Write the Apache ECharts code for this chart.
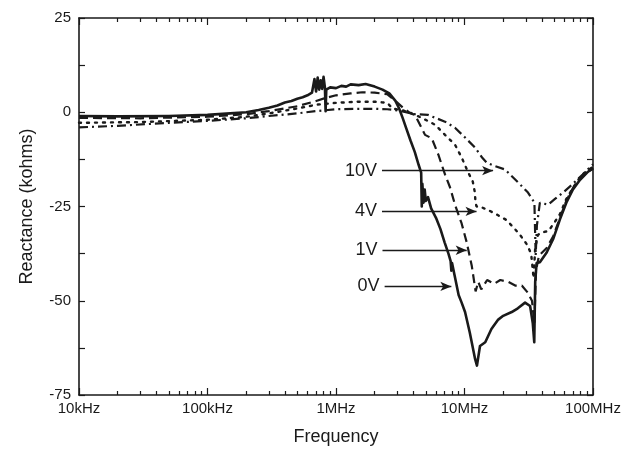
<!DOCTYPE html>
<html>
<head>
<meta charset="utf-8">
<script src="https://cdn.jsdelivr.net/npm/echarts@6/dist/echarts.min.js"></script>
<style>
  html, body { margin: 0; padding: 0; background: #fff; }
  #root { width: 637px; height: 455px; }
</style>
</head>
<body>
<div id="root"></div>
<script>
// frequency in MHz, reactance in kohms
const freq0V = [0.01, 0.02, 0.05, 0.1, 0.15, 0.2, 0.25, 0.3, 0.35, 0.4, 0.45, 0.5, 0.55, 0.6, 0.65, 0.68, 0.7, 0.72, 0.74, 0.76, 0.78, 0.8, 0.82, 0.83, 0.84, 0.9, 1.0, 1.1, 1.2, 1.3, 1.5, 1.7, 2.0, 2.3, 2.6, 2.9, 3.1, 3.3, 3.5, 3.8, 4.1, 4.4, 4.6, 4.65, 4.7, 4.8, 4.9, 5.0, 5.2, 5.5, 6.0, 6.5, 7.0, 7.5, 7.8, 7.9, 8.0, 8.4, 9.0, 9.5, 10.1, 11.0, 12.1, 12.5, 13.2, 14.5, 16.2, 18.3, 20.0, 23.3, 26.0, 29.6, 32.4, 34.0, 34.9, 35.5, 36.4, 38.6, 43.6, 48.9, 55.3, 62.0, 69.8, 79.3, 90.0, 100];
const react0V = [-1.0, -1.1, -1.0, -0.7, -0.3, 0.0, 0.6, 1.2, 1.8, 2.6, 3.0, 3.6, 4.0, 4.5, 5.2, 8.8, 5.5, 9.2, 6.0, 8.5, 6.2, 9.4, 6.5, 0.3, 6.0, 6.6, 6.4, 7.0, 6.8, 7.4, 7.2, 7.5, 6.8, 6.0, 5.0, 3.0, 1.0, -1.5, -4.0, -7.5, -10.5, -14.0, -16.0, -25.0, -19.0, -24.0, -20.5, -23.5, -22.5, -25.5, -28.0, -31.0, -34.5, -37.5, -39.5, -42.0, -40.0, -43.5, -48.5, -50.5, -53.0, -58.5, -65.5, -67.2, -62.0, -61.0, -57.5, -55.0, -54.0, -53.0, -52.0, -50.5, -51.4, -56.0, -61.0, -45.0, -40.0, -39.8, -37.2, -33.7, -28.4, -24.0, -20.5, -17.9, -16.0, -14.8];

const freq1V = [0.01, 0.03, 0.1, 0.2, 0.3, 0.5, 0.7, 0.83, 1.0, 1.3, 1.6, 2.0, 2.5, 2.9, 3.3, 3.8, 4.12, 4.93, 5.56, 6.25, 7.05, 7.71, 8.43, 9.5, 10.4, 11.4, 12.2, 12.8, 13.5, 15.0, 17.0, 19.0, 22.0, 25.0, 28.0, 31.0, 33.5, 35.0, 36.0, 38.0, 43.6, 48.9, 55.3, 62.0, 70.0, 80.0, 90.0, 100];
const react1V = [-1.5, -1.6, -1.2, -0.5, 0.3, 1.6, 3.0, 3.8, 4.5, 5.0, 5.3, 5.2, 4.8, 3.0, 1.3, -0.3, -0.7, -6.0, -6.9, -11.2, -16.5, -19.9, -24.5, -29.5, -34.5, -40.8, -47.5, -45.0, -47.0, -44.5, -45.5, -44.5, -45.0, -46.0, -46.0, -47.8, -50.0, -56.0, -42.0, -38.0, -36.0, -33.0, -28.0, -23.5, -20.0, -17.5, -16.0, -15.0];

const freq4V = [0.01, 0.03, 0.1, 0.2, 0.3, 0.5, 0.7, 1.0, 1.5, 2.0, 2.5, 2.76, 3.3, 3.77, 4.65, 5.9, 7.05, 8.43, 9.5, 10.6, 11.6, 12.0, 12.2, 12.4, 13.2, 15.8, 18.0, 21.0, 24.0, 27.0, 30.5, 33.0, 34.5, 35.5, 37.3, 41.0, 45.0, 50.0, 55.3, 62.0, 70.0, 80.0, 90.0, 100];
const react4V = [-2.8, -2.6, -2.0, -1.2, -0.3, 1.0, 2.0, 2.5, 2.8, 2.8, 2.5, 1.0, 0.5, -0.1, -1.5, -3.3, -6.0, -8.6, -12.0, -15.7, -18.4, -21.0, -24.0, -25.0, -25.0, -26.2, -27.2, -28.5, -30.5, -32.5, -35.0, -37.5, -44.0, -36.0, -32.5, -31.8, -31.5, -29.3, -27.0, -23.0, -20.0, -17.0, -15.5, -14.5];

const freq10V = [0.01, 0.02, 0.05, 0.1, 0.2, 0.3, 0.5, 0.7, 1.0, 1.5, 2.0, 2.5, 3.0, 3.5, 4.0, 5.2, 7.05, 8.43, 10.1, 12.1, 13.7, 14.9, 17.0, 20.7, 26.1, 31.2, 35.0, 35.8, 36.6, 38.6, 44.7, 50.6, 58.5, 68.7, 83.0, 100];
const react10V = [-4.0, -3.6, -2.8, -2.3, -1.6, -1.0, -0.3, 0.3, 0.8, 0.9, 0.9, 0.8, 0.5, 0.0, -0.5, -0.7, -2.5, -4.1, -6.7, -9.4, -12.0, -13.4, -14.2, -15.2, -18.6, -21.3, -24.0, -38.0, -30.0, -24.0, -24.5, -23.0, -21.3, -19.2, -16.5, -13.8];

const majorFreqs = [0.01, 0.1, 1, 10, 100];
const tickLabels = ['10kHz', '100kHz', '1MHz', '10MHz', '100MHz'];
const minorFreqs = [0.02, 0.03, 0.04, 0.05, 0.06, 0.07, 0.08, 0.09,
  0.2, 0.3, 0.4, 0.5, 0.6, 0.7, 0.8, 0.9,
  2, 3, 4, 5, 6, 7, 8, 9,
  20, 30, 40, 50, 60, 70, 80, 90];

// arrow annotations: label, start freq, end freq, reactance level
const arrowNames = ['10V', '4V', '1V', '0V'];
const arrowStart = [2.28, 2.28, 2.3, 2.39];
const arrowEnd = [16.7, 12.4, 10.4, 7.9];
const arrowLevel = [-15.5, -26.3, -36.6, -46.2];

const pairs = (xs, ys) => xs.map((x, i) => [x, ys[i]]);

const myChart = echarts.init(document.getElementById('root'));
const ink = '#1a1a1a';
const font = 'Liberation Sans, Arial, sans-serif';

const logAxis = (extra) => Object.assign({
  type: 'log',
  logBase: 10,
  min: 0.01,
  max: 100,
  splitLine: { show: false },
  axisLine: { show: true, onZero: false, lineStyle: { color: ink, width: 1.6 } },
  axisLabel: { show: false },
}, extra);

const valAxis = (extra) => Object.assign({
  type: 'value',
  min: -75,
  max: 25,
  interval: 25,
  splitLine: { show: false },
  axisLine: { show: true, onZero: false, lineStyle: { color: ink, width: 1.6 } },
  axisTick: { show: true, inside: true, length: 6, lineStyle: { color: ink, width: 1.2 } },
  minorTick: { show: true, splitNumber: 2, length: 6, lineStyle: { color: ink, width: 1.2 } },
  axisLabel: { show: false },
}, extra);

const option = {
  animation: false,
  backgroundColor: '#fff',
  grid: { left: 79, right: 44, top: 18, bottom: 60 },
  xAxis: [
    logAxis({
      position: 'bottom',
      axisTick: { show: true, inside: true, length: 7, customValues: majorFreqs, lineStyle: { color: ink, width: 1.2 } },
      axisLabel: {
        show: true, color: ink, fontFamily: font, fontSize: 15, margin: 6,
        customValues: majorFreqs,
        formatter: (v) => {
          const i = majorFreqs.findIndex((m) => Math.abs(Math.log10(m) - Math.log10(v)) < 1e-6);
          return i >= 0 ? tickLabels[i] : '';
        },
      },
      name: 'Frequency',
      nameLocation: 'middle',
      nameGap: 33,
      nameTextStyle: { color: ink, fontFamily: font, fontSize: 18 },
    }),
    logAxis({
      position: 'bottom',
      axisLine: { show: false, onZero: false },
      axisTick: { show: true, inside: true, length: 4, customValues: minorFreqs, lineStyle: { color: ink, width: 1.2 } },
    }),
    logAxis({
      position: 'top',
      axisTick: { show: true, inside: true, length: 7, customValues: majorFreqs, lineStyle: { color: ink, width: 1.2 } },
    }),
    logAxis({
      position: 'top',
      axisLine: { show: false, onZero: false },
      axisTick: { show: true, inside: true, length: 4, customValues: minorFreqs, lineStyle: { color: ink, width: 1.2 } },
    }),
  ],
  yAxis: [
    valAxis({
      position: 'left',
      axisLabel: { show: true, color: ink, fontFamily: font, fontSize: 15, margin: 8 },
      name: 'Reactance (kohms)',
      nameLocation: 'middle',
      nameGap: 43,
      nameRotate: 90,
      nameTextStyle: { color: ink, fontFamily: font, fontSize: 18 },
    }),
    valAxis({ position: 'right' }),
  ],
  series: [
    {
      name: '0V', type: 'line', showSymbol: false, symbol: 'none',
      data: pairs(freq0V, react0V),
      lineStyle: { color: ink, width: 2.6, type: 'solid', join: 'round' },
      markLine: {
        silent: true,
        symbol: ['none', 'arrow'],
        symbolSize: [7, 11],
        lineStyle: { color: ink, width: 1.3, type: 'solid' },
        label: { show: true, position: 'start', distance: 5, formatter: '{b}', color: ink, fontFamily: font, fontSize: 18 },
        data: arrowNames.map((n, i) => [
          { name: n, coord: [arrowStart[i], arrowLevel[i]] },
          { coord: [arrowEnd[i], arrowLevel[i]] },
        ]),
      },
    },
    {
      name: '1V', type: 'line', showSymbol: false, symbol: 'none',
      data: pairs(freq1V, react1V),
      lineStyle: { color: ink, width: 2.2, type: [9, 5] },
    },
    {
      name: '4V', type: 'line', showSymbol: false, symbol: 'none',
      data: pairs(freq4V, react4V),
      lineStyle: { color: ink, width: 2.4, type: [2, 6], cap: 'round' },
    },
    {
      name: '10V', type: 'line', showSymbol: false, symbol: 'none',
      data: pairs(freq10V, react10V),
      lineStyle: { color: ink, width: 2.2, type: [9, 4, 2, 4] },
    },
  ],
};

myChart.setOption(option);
</script>
</body>
</html>
